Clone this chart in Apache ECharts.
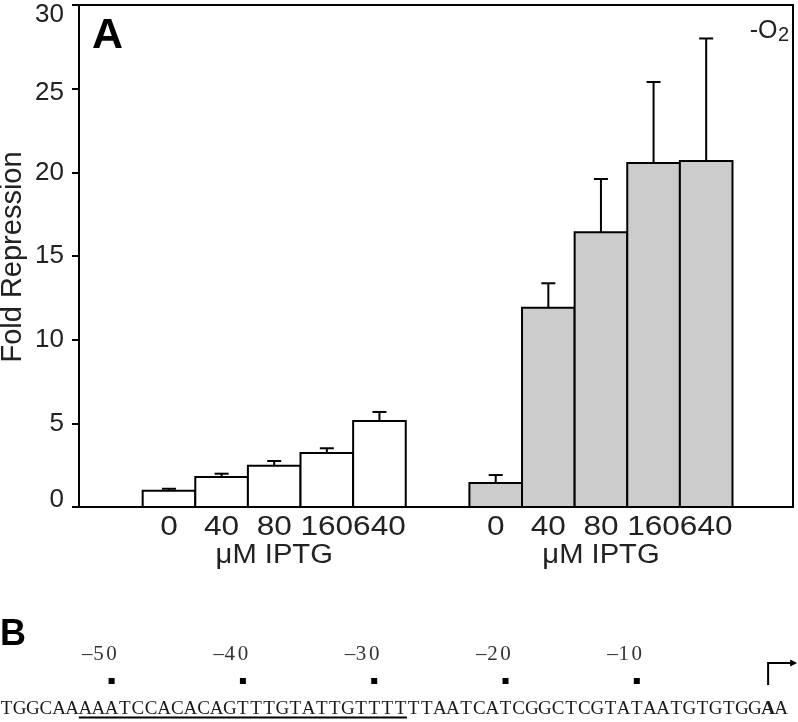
<!DOCTYPE html>
<html>
<head>
<meta charset="utf-8">
<script src="https://cdn.jsdelivr.net/npm/echarts@6/dist/echarts.min.js"></script>
<style>html,body{margin:0;padding:0;background:#fff}#chart{width:798px;height:722px}</style>
</head>
<body>
<div id="chart"></div>
<script>
// ---------- data ----------
const concentrations = ['0', '40', '80', '160', '640'];
const xAxisTitle = 'μM IPTG';
const yAxisTitle = 'Fold Repression';
const whiteValues = [0.97, 1.79, 2.47, 3.23, 5.14];
const whiteErrors = [0.12, 0.20, 0.28, 0.28, 0.54];
const grayValues = [1.43, 11.9, 16.42, 20.56, 20.68];
const grayErrors = [0.48, 1.47, 3.18, 4.84, 7.32];
const yTickInterval = 5;
const yMax = 30;
const sequence = 'TGGCAAAAATCCACACAGTTTGTATTGTTTTTTAATCATCGGCTCGTATAATGTGTGGAA';
const positionLabels = ['-50', '-40', '-30', '-20', '-10'];
const positionValues = [-50, -40, -30, -20, -10];
const startIndex = 58;          // index of the bold A (transcription start)
const underlineRange = [6, 31]; // underlined characters [from, to)

// ---------- layout ----------
const slotsAcross = 13.57;
const groupStart = [1.71, 7.92];
const charCount = sequence.length;
const charWidth = 13.13;
const FONT = '"Liberation Sans", Arial, sans-serif';
const SERIF = '"Liberation Serif", "Times New Roman", serif';

function barRender(fill) {
  return function (params, api) {
    const x = api.value(0), y = api.value(1), e = api.value(2), idx = api.value(3);
    const bl = api.coord([x - 0.5, 0]);
    const tr = api.coord([x + 0.5, y]);
    const top = api.coord([x, y + e]);
    const cx = (bl[0] + tr[0]) / 2;
    const children = [
      { type: 'rect', shape: { x: bl[0], y: tr[1], width: tr[0] - bl[0], height: bl[1] - tr[1] },
        style: { fill: fill, stroke: '#000', lineWidth: 2 } },
      { type: 'line', shape: { x1: cx, y1: tr[1], x2: cx, y2: top[1] }, style: { stroke: '#000', lineWidth: 2 } },
      { type: 'line', shape: { x1: cx - 7, y1: top[1], x2: cx + 7, y2: top[1] }, style: { stroke: '#000', lineWidth: 2 } },
      { type: 'text', x: cx, y: bl[1] + 21, scaleX: 1.17,
        style: { text: concentrations[idx], x: 0, y: 0, align: 'center', verticalAlign: 'middle',
        font: '27px ' + FONT, fill: '#222' } }
    ];
    if (idx === 2) {
      children.push({ type: 'text', x: cx, y: bl[1] + 49, scaleX: 1.08,
        style: { text: xAxisTitle, x: 0, y: 0, align: 'center', verticalAlign: 'middle',
        font: '27px ' + FONT, fill: '#222' } });
    }
    return { type: 'group', children: children };
  };
}

function groupData(values, errors, g) {
  return values.map((v, i) => [groupStart[g] + i, v, errors[i], i]);
}

function charCenter(api, i) { return api.coord([i + 0.5, 0])[0]; }

function yLabel(v) {
  if (v === yMax) return '{down|' + v + '}';
  if (v === yMax - yTickInterval) return '{downs|' + v + '}';
  if (v === 0) return '{up|' + v + '}';
  return String(v);
}

const yLabelText = { fontSize: 26, color: '#222', fontFamily: 'Liberation Sans' };

const chart = echarts.init(document.getElementById('chart'), null, { renderer: 'canvas' });

const option = {
  animation: false,
  backgroundColor: '#fff',
  grid: [
    { left: 79, top: 5, width: 714, height: 502, show: true, borderColor: '#000', borderWidth: 2,
      backgroundColor: 'transparent', containLabel: false, outerBoundsMode: 'none' },
    { left: 0, top: 600, width: charCount * charWidth, height: 120, show: false, containLabel: false, outerBoundsMode: 'none' }
  ],
  xAxis: [
    { type: 'value', gridIndex: 0, min: 0, max: slotsAcross,
      axisLine: { show: true, onZero: false, lineStyle: { color: '#000', width: 2 } },
      axisTick: { show: false }, axisLabel: { show: false }, splitLine: { show: false } },
    { type: 'value', gridIndex: 1, min: 0, max: charCount, show: false }
  ],
  yAxis: [
    { type: 'value', gridIndex: 0, min: 0, max: yMax, interval: yTickInterval,
      axisLine: { show: true, lineStyle: { color: '#000', width: 2 } },
      axisTick: { show: true, inside: false, length: 7, lineStyle: { color: '#000', width: 2 } },
      axisLabel: Object.assign({ margin: 15, formatter: yLabel,
        rich: {
          down: Object.assign({ padding: [20, 0, 0, 0] }, yLabelText),
          downs: Object.assign({ padding: [8, 0, 0, 0] }, yLabelText),
          up: Object.assign({ padding: [0, 0, 14, 0] }, yLabelText)
        } }, yLabelText),
      splitLine: { show: false } },
    { type: 'value', gridIndex: 1, min: 0, max: 1, show: false }
  ],
  series: [
    { type: 'custom', name: 'white', xAxisIndex: 0, yAxisIndex: 0, renderItem: barRender('#ffffff'),
      data: groupData(whiteValues, whiteErrors, 0), clip: false },
    { type: 'custom', name: 'gray', xAxisIndex: 0, yAxisIndex: 0, renderItem: barRender('#cccccc'),
      data: groupData(grayValues, grayErrors, 1), clip: false },
    // sequence letters
    { type: 'custom', name: 'sequence', xAxisIndex: 1, yAxisIndex: 1, clip: false,
      data: sequence.split('').map((c, i) => [i]),
      renderItem: function (params, api) {
        const i = api.value(0);
        const y0 = params.coordSys.y;
        return { type: 'text', style: { text: sequence[i], x: charCenter(api, i), y: y0 + 109, align: 'center', verticalAlign: 'middle',
          font: (i === startIndex ? 'bold ' : '') + '19px ' + SERIF, fill: '#1a1a1a' } };
      } },
    // position markers and labels
    { type: 'custom', name: 'positions', xAxisIndex: 1, yAxisIndex: 1, clip: false,
      data: positionValues.map((p, k) => [startIndex + p, k]),
      renderItem: function (params, api) {
        const i = api.value(0), k = api.value(1);
        const y0 = params.coordSys.y;
        const cx = charCenter(api, i);
        const label = positionLabels[k];
        const children = [{ type: 'rect', shape: { x: cx - 3, y: y0 + 78, width: 6, height: 6 }, style: { fill: '#000' } }];
        for (let j = 0; j < label.length; j++) {
          const ci = i - (label.length - 1 - j);
          const isDash = label[j] === '-';
          children.push({ type: 'text', style: { text: isDash ? '–' : label[j], x: charCenter(api, ci) + (isDash ? 2 : 0), y: y0 + 54.5,
            align: 'center', verticalAlign: 'middle', font: '21px ' + SERIF, fill: '#333' } });
        }
        return { type: 'group', children: children };
      } },
    // underline
    { type: 'custom', name: 'underline', xAxisIndex: 1, yAxisIndex: 1, clip: false,
      data: [underlineRange],
      renderItem: function (params, api) {
        const y0 = params.coordSys.y;
        const a = api.coord([api.value(0), 0])[0], b = api.coord([api.value(1), 0])[0];
        return { type: 'line', shape: { x1: a, y1: y0 + 117.5, x2: b, y2: y0 + 117.5 }, style: { stroke: '#000', lineWidth: 2 } };
      } },
    // transcription start arrow
    { type: 'custom', name: 'tss', xAxisIndex: 1, yAxisIndex: 1, clip: false,
      data: [[startIndex]],
      renderItem: function (params, api) {
        const y0 = params.coordSys.y;
        const cx = charCenter(api, api.value(0));
        return { type: 'group', children: [
          { type: 'polyline', shape: { points: [[cx, y0 + 85], [cx, y0 + 63], [cx + 23, y0 + 63]] }, style: { stroke: '#000', lineWidth: 2, fill: null } },
          { type: 'polygon', shape: { points: [[cx + 22, y0 + 59.5], [cx + 29, y0 + 63], [cx + 22, y0 + 66.5]] }, style: { fill: '#000' } }
        ] };
      } }
  ],
  graphic: [
    { type: 'text', x: 13, y: 257, rotation: Math.PI / 2,
      style: { text: yAxisTitle, font: '29px ' + FONT, fill: '#222', align: 'center', verticalAlign: 'middle' } },
    { type: 'text', left: 92, top: 15, style: { text: 'A', font: 'bold 43px ' + FONT, fill: '#000' } },
    { type: 'text', x: 777.5, y: 31, style: { text: '-O', font: '25px ' + FONT, fill: '#222', align: 'right', verticalAlign: 'middle' } },
    { type: 'text', x: 778, y: 35, style: { text: '2', font: '20px ' + FONT, fill: '#222', align: 'left', verticalAlign: 'middle' } },
    { type: 'text', left: 0, top: 617, style: { text: 'B', font: 'bold 36px ' + FONT, fill: '#000' } }
  ]
};
chart.setOption(option);
</script>
</body>
</html>
